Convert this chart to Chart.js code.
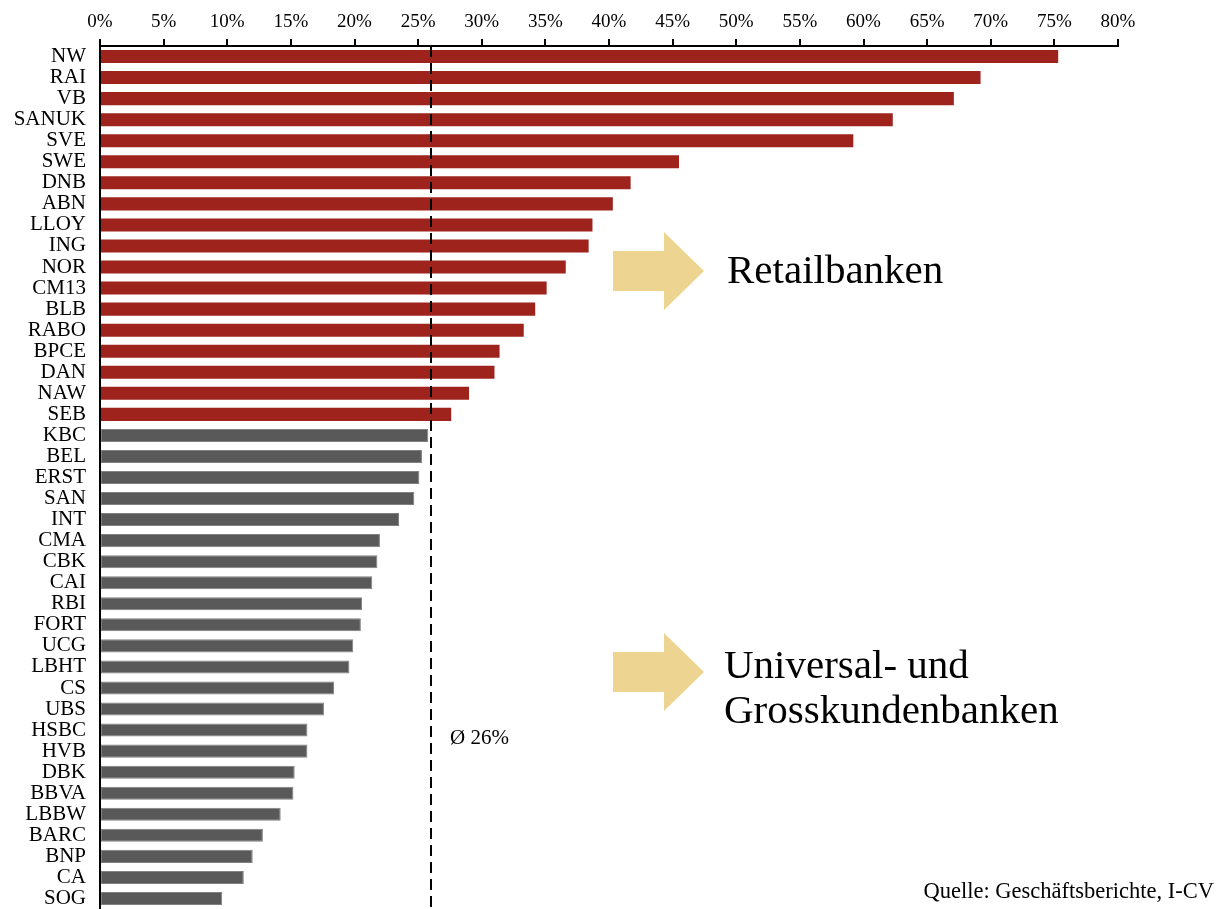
<!DOCTYPE html>
<html>
<head>
<meta charset="utf-8">
<script src="https://cdn.jsdelivr.net/npm/chart.js@4"></script>
<style>
html,body{margin:0;padding:0;background:#fff;}
#c{display:block;}
</style>
</head>
<body>
<canvas id="c" width="1220" height="909"></canvas>
<script>
const categories = ["NW","RAI","VB","SANUK","SVE","SWE","DNB","ABN","LLOY","ING","NOR","CM13","BLB","RABO","BPCE","DAN","NAW","SEB",
  "KBC","BEL","ERST","SAN","INT","CMA","CBK","CAI","RBI","FORT","UCG","LBHT","CS","UBS","HSBC","HVB","DBK","BBVA","LBBW","BARC","BNP","CA","SOG"];
const values = [75.3,69.2,67.1,62.3,59.2,45.5,41.7,40.3,38.7,38.4,36.6,35.1,34.2,33.3,31.4,31.0,29.0,27.6,
  25.8,25.3,25.1,24.7,23.5,22.0,21.8,21.4,20.6,20.5,19.9,19.6,18.4,17.6,16.3,16.3,15.3,15.2,14.2,12.8,12.0,11.3,9.6];
const groups = categories.map((c,i)=> i < 18 ? "Retail" : "Universal");
const average = 26;
const xTicks = [0,5,10,15,20,25,30,35,40,45,50,55,60,65,70,75,80];
const annotations = {
  retail: ["Retailbanken"],
  universal: ["Universal- und", "Grosskundenbanken"],
  avg: "Ø 26%",
  source: "Quelle: Geschäftsberichte, I-CV"
};

const RED = "#9E231C", GRAY = "#595959", GOLD = "#EDD591";
const SERIF = "'Liberation Serif', 'DejaVu Serif', serif";

function drawArrow(ctx, x, y) {
  ctx.beginPath();
  ctx.moveTo(x, y - 20);
  ctx.lineTo(x + 51, y - 20);
  ctx.lineTo(x + 51, y - 39);
  ctx.lineTo(x + 91, y);
  ctx.lineTo(x + 51, y + 39);
  ctx.lineTo(x + 51, y + 20);
  ctx.lineTo(x, y + 20);
  ctx.closePath();
  ctx.fillStyle = GOLD;
  ctx.fill();
}

const overlay = {
  id: "overlay",
  afterDatasetsDraw(chart) {
    const ctx = chart.ctx;
    const xs = chart.scales.x, area = chart.chartArea;
    const xa = Math.round(xs.getPixelForValue(average));
    ctx.save();
    ctx.strokeStyle = "#000";
    ctx.lineWidth = 2;
    ctx.setLineDash([11, 6]);
    ctx.beginPath();
    ctx.moveTo(xa, area.top);
    ctx.lineTo(xa, chart.height);
    ctx.stroke();
    ctx.setLineDash([]);
    ctx.restore();

    ctx.save();
    ctx.fillStyle = "#000";
    ctx.textBaseline = "alphabetic";
    ctx.font = "21px " + SERIF;
    ctx.textAlign = "left";
    ctx.fillText(annotations.avg, xa + 19, 744);

    drawArrow(ctx, 613, 271);
    drawArrow(ctx, 613, 672);
    ctx.fillStyle = "#000";
    ctx.font = "41px " + SERIF;
    ctx.fillText(annotations.retail[0], 727, 283);
    ctx.fillText(annotations.universal[0], 724, 678);
    ctx.fillText(annotations.universal[1], 724, 723);

    ctx.font = "22.5px " + SERIF;
    ctx.textAlign = "right";
    ctx.fillText(annotations.source, 1214, 898);
    ctx.restore();
  }
};

new Chart(document.getElementById("c"), {
  type: "bar",
  data: {
    labels: categories,
    datasets: [{
      data: values,
      backgroundColor: groups.map(g => g === "Retail" ? RED : GRAY),
      borderColor: groups.map(g => g === "Retail" ? RED : "#808080"),
      borderWidth: groups.map(g => g === "Retail" ? 0 : 1),
      borderSkipped: false,
      barPercentage: 0.62,
      categoryPercentage: 1.0
    }]
  },
  options: {
    indexAxis: "y",
    responsive: false,
    animation: false,
    layout: { padding: { left: 0, right: 102, top: 0, bottom: 0 } },
    plugins: { legend: { display: false }, tooltip: { enabled: false } },
    scales: {
      x: {
        position: "top",
        min: 0, max: 80,
        afterBuildTicks: s => { s.ticks = xTicks.map(v => ({ value: v })); },
        afterFit: s => { s.height = 46; },
        ticks: {
          callback: v => v + "%",
          color: "#000",
          font: { family: SERIF, size: 19 },
          padding: 6,
          maxRotation: 0,
          autoSkip: false
        },
        grid: { drawOnChartArea: false, drawTicks: true, tickLength: 7, color: "#000", lineWidth: 2 },
        border: { display: true, color: "#000", width: 2 }
      },
      y: {
        afterFit: s => { s.width = 100; s.paddingTop = 0; s.paddingBottom = 0; },
        ticks: {
          color: "#000",
          font: { family: SERIF, size: 21 },
          padding: 14,
          autoSkip: false
        },
        grid: { display: false, drawTicks: false },
        border: { display: true, color: "#000", width: 2 }
      }
    }
  },
  plugins: [overlay]
});
</script>
</body>
</html>
